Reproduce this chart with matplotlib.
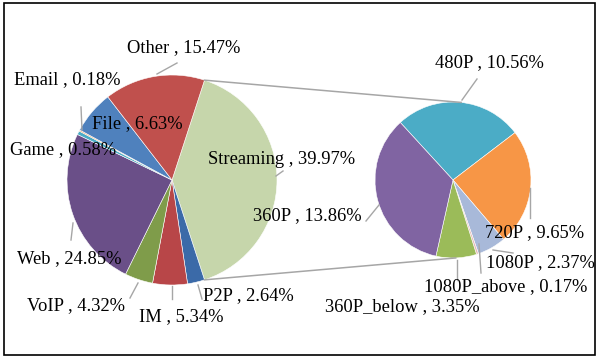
import matplotlib
matplotlib.use("Agg")
import matplotlib.pyplot as plt
from matplotlib.patches import Rectangle
import numpy as np

plt.rcParams['font.family'] = ['Liberation Serif', 'DejaVu Serif']

# main pie (clockwise from the top of the Streaming slice)
main_labels = ['Streaming', 'P2P', 'IM', 'VoIP', 'Web', 'Game', 'Email', 'File', 'Other']
main_values = [39.97, 2.64, 5.34, 4.32, 24.85, 0.58, 0.18, 6.63, 15.47]
main_colors = ['#c6d6ab', '#3b6aa8', '#b84648', '#7f9c4a', '#6a4f88', '#4bacc6', '#f79646', '#4f81bd', '#c0504d']

# secondary pie: Streaming split by resolution
sub_labels = ['480P', '720P', '1080P', '1080P_above', '360P_below', '360P']
sub_values = [10.56, 9.65, 2.37, 0.17, 3.35, 13.86]
sub_colors = ['#4bacc6', '#f79646', '#a8b9d9', '#e6b9b8', '#9bbb59', '#8064a2']

W, H = 600, 361
fig = plt.figure(figsize=(6, 3.61), dpi=100)
ax = fig.add_axes([0, 0, 1, 1])

c1, r1 = (172, H - 180), 105
c2, r2 = (453, H - 180), 78

split = 360 * main_values[0] / sum(main_values)
ax.pie(main_values, colors=main_colors, startangle=split / 2, counterclock=False,
       center=c1, radius=r1, wedgeprops=dict(edgecolor='white', linewidth=0.4))
ax.pie(sub_values, colors=sub_colors, startangle=132.5, counterclock=False,
       center=c2, radius=r2, wedgeprops=dict(edgecolor='white', linewidth=0.4))

# connector lines
a = np.radians(split / 2)
p_top = (c1[0] + r1 * np.cos(a), c1[1] + r1 * np.sin(a))
p_bot = (c1[0] + r1 * np.cos(a), c1[1] - r1 * np.sin(a))
q_top = (c2[0] + r2 * np.cos(np.radians(84)), c2[1] + r2 * np.sin(np.radians(84)))
q_bot = (c2[0] + r2 * np.cos(np.radians(-88)), c2[1] + r2 * np.sin(np.radians(-88)))
ax.plot([p_top[0], q_top[0]], [p_top[1], q_top[1]], color='#a6a6a6', lw=1.1)
ax.plot([p_bot[0], q_bot[0]], [p_bot[1], q_bot[1]], color='#a6a6a6', lw=1.1)

# label positions (left x, centre y in pixels) and leader lines
main_pos = {'Streaming': (208, 160), 'P2P': (203, 296), 'IM': (139, 317), 'VoIP': (27, 306),
            'Web': (17, 259), 'Game': (10, 150), 'Email': (14, 80), 'File': (92, 124),
            'Other': (127, 48)}
sub_pos = {'480P': (435, 63), '720P': (485, 233), '1080P': (486, 263),
           '1080P_above': (424, 287), '360P_below': (325, 307), '360P': (253, 216)}
leaders = [((157, 74), (177, 63)), ((81, 107), (82, 130)), ((73, 223), (71, 240)),
           ((130, 298), (138, 283)), ((172, 286), (172, 299)), ((198, 285), (202, 299)),
           ((366, 221), (379, 205)), ((462, 100), (477, 79)), ((530, 188), (530, 218)),
           ((493, 250), (513, 253)), ((479, 244), (481, 273)), ((457, 260), (457, 280)),
           ((276, 176), (283, 171))]
for (x0, y0), (x1, y1) in leaders:
    ax.plot([x0, x1], [H - y0, H - y1], color='#a6a6a6', lw=1.0)

for lab, val in zip(main_labels, main_values):
    x, y = main_pos[lab]
    ax.text(x, H - y, f'{lab} , {val:.2f}%', fontsize=13.3, ha='left', va='center')
for lab, val in zip(sub_labels, sub_values):
    x, y = sub_pos[lab]
    ax.text(x, H - y, f'{lab} , {val:.2f}%', fontsize=13.3, ha='left', va='center')

ax.set_xlim(0, W)
ax.set_ylim(0, H)
ax.set_aspect('auto')
ax.axis('off')

fig.patches.append(Rectangle((4, H - 355), 591, 352, transform=None, fill=False,
                             edgecolor='black', linewidth=1.2))

fig.savefig('out.png', dpi=100)
